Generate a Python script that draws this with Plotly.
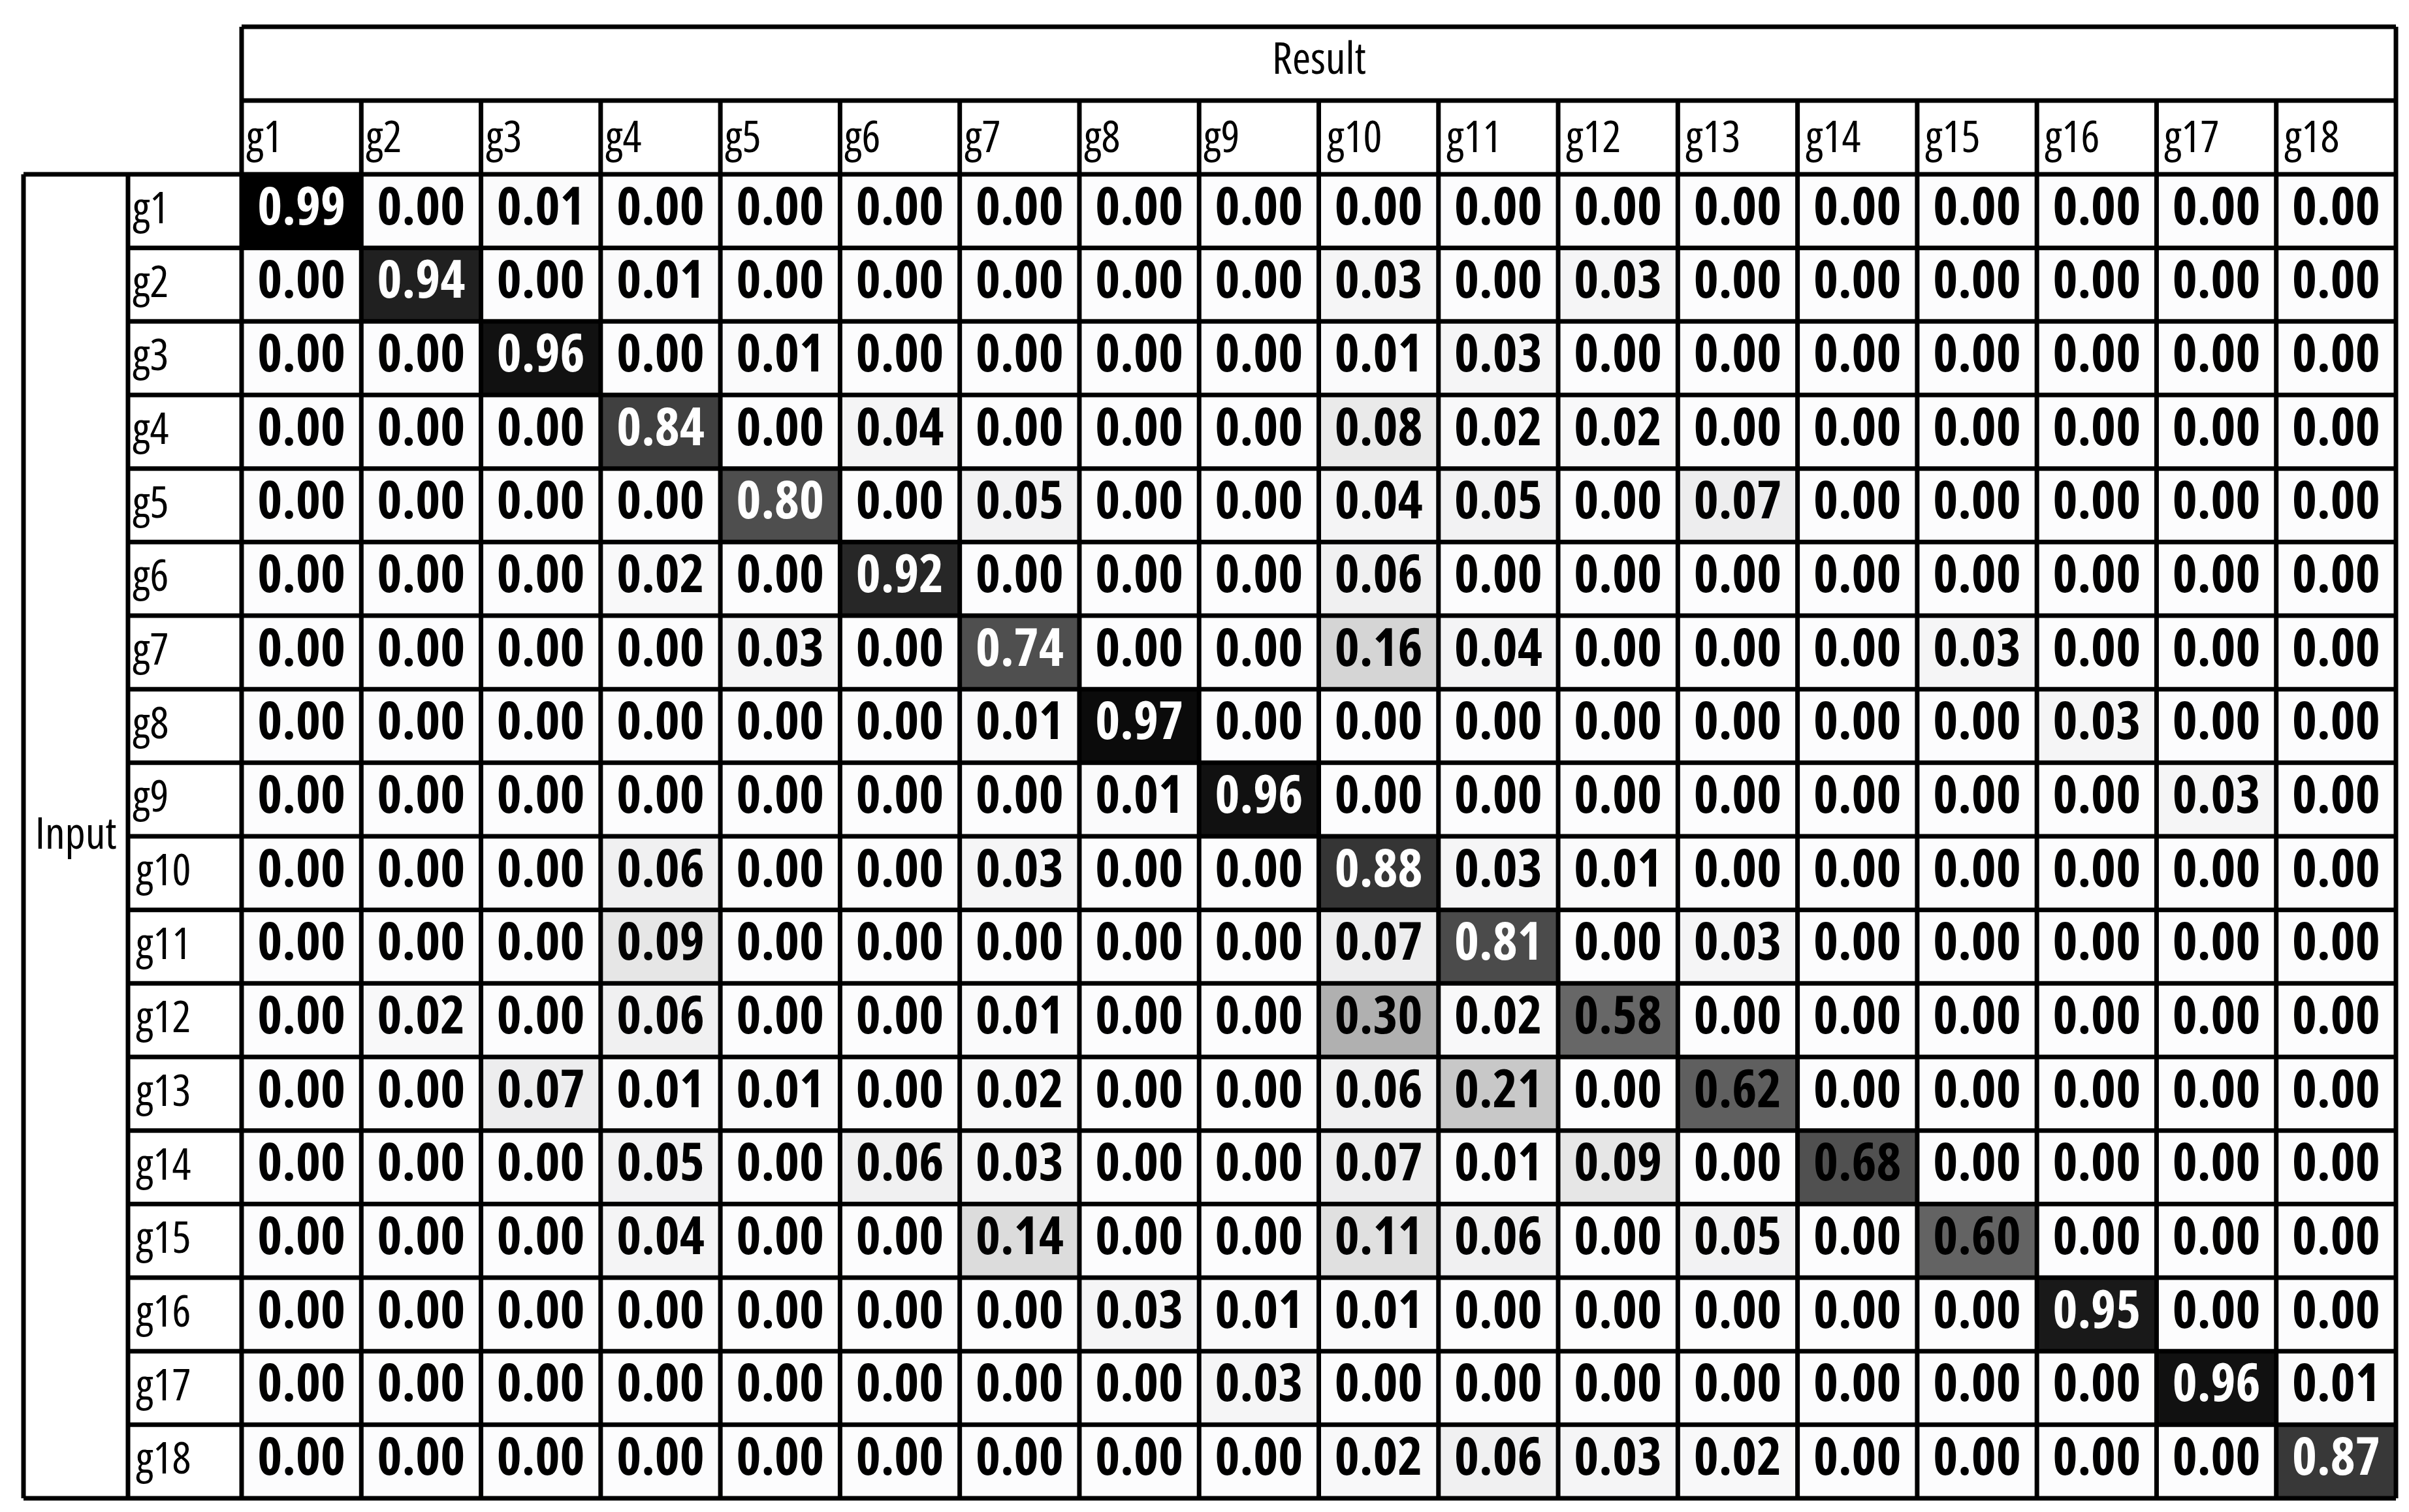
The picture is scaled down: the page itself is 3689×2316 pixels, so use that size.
import plotly.graph_objects as go

# ---------------- data ----------------
result_labels = ["g%d" % i for i in range(1, 19)]   # columns (Result)
input_labels = ["g%d" % i for i in range(1, 19)]    # rows (Input)

row_g1 = [0.99, 0.00, 0.01, 0.00, 0.00, 0.00, 0.00, 0.00, 0.00, 0.00, 0.00, 0.00, 0.00, 0.00, 0.00, 0.00, 0.00, 0.00]
row_g2 = [0.00, 0.94, 0.00, 0.01, 0.00, 0.00, 0.00, 0.00, 0.00, 0.03, 0.00, 0.03, 0.00, 0.00, 0.00, 0.00, 0.00, 0.00]
row_g3 = [0.00, 0.00, 0.96, 0.00, 0.01, 0.00, 0.00, 0.00, 0.00, 0.01, 0.03, 0.00, 0.00, 0.00, 0.00, 0.00, 0.00, 0.00]
row_g4 = [0.00, 0.00, 0.00, 0.84, 0.00, 0.04, 0.00, 0.00, 0.00, 0.08, 0.02, 0.02, 0.00, 0.00, 0.00, 0.00, 0.00, 0.00]
row_g5 = [0.00, 0.00, 0.00, 0.00, 0.80, 0.00, 0.05, 0.00, 0.00, 0.04, 0.05, 0.00, 0.07, 0.00, 0.00, 0.00, 0.00, 0.00]
row_g6 = [0.00, 0.00, 0.00, 0.02, 0.00, 0.92, 0.00, 0.00, 0.00, 0.06, 0.00, 0.00, 0.00, 0.00, 0.00, 0.00, 0.00, 0.00]
row_g7 = [0.00, 0.00, 0.00, 0.00, 0.03, 0.00, 0.74, 0.00, 0.00, 0.16, 0.04, 0.00, 0.00, 0.00, 0.03, 0.00, 0.00, 0.00]
row_g8 = [0.00, 0.00, 0.00, 0.00, 0.00, 0.00, 0.01, 0.97, 0.00, 0.00, 0.00, 0.00, 0.00, 0.00, 0.00, 0.03, 0.00, 0.00]
row_g9 = [0.00, 0.00, 0.00, 0.00, 0.00, 0.00, 0.00, 0.01, 0.96, 0.00, 0.00, 0.00, 0.00, 0.00, 0.00, 0.00, 0.03, 0.00]
row_g10 = [0.00, 0.00, 0.00, 0.06, 0.00, 0.00, 0.03, 0.00, 0.00, 0.88, 0.03, 0.01, 0.00, 0.00, 0.00, 0.00, 0.00, 0.00]
row_g11 = [0.00, 0.00, 0.00, 0.09, 0.00, 0.00, 0.00, 0.00, 0.00, 0.07, 0.81, 0.00, 0.03, 0.00, 0.00, 0.00, 0.00, 0.00]
row_g12 = [0.00, 0.02, 0.00, 0.06, 0.00, 0.00, 0.01, 0.00, 0.00, 0.30, 0.02, 0.58, 0.00, 0.00, 0.00, 0.00, 0.00, 0.00]
row_g13 = [0.00, 0.00, 0.07, 0.01, 0.01, 0.00, 0.02, 0.00, 0.00, 0.06, 0.21, 0.00, 0.62, 0.00, 0.00, 0.00, 0.00, 0.00]
row_g14 = [0.00, 0.00, 0.00, 0.05, 0.00, 0.06, 0.03, 0.00, 0.00, 0.07, 0.01, 0.09, 0.00, 0.68, 0.00, 0.00, 0.00, 0.00]
row_g15 = [0.00, 0.00, 0.00, 0.04, 0.00, 0.00, 0.14, 0.00, 0.00, 0.11, 0.06, 0.00, 0.05, 0.00, 0.60, 0.00, 0.00, 0.00]
row_g16 = [0.00, 0.00, 0.00, 0.00, 0.00, 0.00, 0.00, 0.03, 0.01, 0.01, 0.00, 0.00, 0.00, 0.00, 0.00, 0.95, 0.00, 0.00]
row_g17 = [0.00, 0.00, 0.00, 0.00, 0.00, 0.00, 0.00, 0.00, 0.03, 0.00, 0.00, 0.00, 0.00, 0.00, 0.00, 0.00, 0.96, 0.01]
row_g18 = [0.00, 0.00, 0.00, 0.00, 0.00, 0.00, 0.00, 0.00, 0.00, 0.02, 0.06, 0.03, 0.02, 0.00, 0.00, 0.00, 0.00, 0.87]

values = [row_g1, row_g2, row_g3, row_g4, row_g5, row_g6, row_g7, row_g8, row_g9,
          row_g10, row_g11, row_g12, row_g13, row_g14, row_g15, row_g16, row_g17, row_g18]

col_title = "Result"
row_title = "Input"

# ---------------- layout geometry (pixels) ----------------
W, H = 3689, 2316
L, R, T, B = 362, 3661, 259, 2287          # data grid edges
RESULT_TOP = 33
HEADER_TOP = 146
ROWLAB_LEFT = 188
INPUT_LEFT = 28
LW = 7
FONT = "Open Sans, sans-serif"


def px(xp):
    return (xp - L) / (R - L)


def py(yp):
    return (B - yp) / (B - T)


colorscale = [
    [0.00, "rgb(252,252,253)"], [0.01, "rgb(250,250,251)"], [0.03, "rgb(245,245,246)"],
    [0.05, "rgb(242,242,243)"], [0.07, "rgb(237,237,238)"], [0.09, "rgb(230,230,230)"],
    [0.11, "rgb(224,224,224)"], [0.14, "rgb(220,220,220)"], [0.16, "rgb(213,213,213)"],
    [0.21, "rgb(200,200,200)"], [0.30, "rgb(176,176,176)"], [0.58, "rgb(103,103,103)"],
    [0.62, "rgb(95,95,95)"], [0.68, "rgb(80,80,80)"], [0.80, "rgb(78,78,78)"],
    [0.84, "rgb(64,64,64)"], [0.87, "rgb(56,56,56)"], [0.92, "rgb(39,39,39)"],
    [0.94, "rgb(32,32,32)"], [0.96, "rgb(17,17,17)"], [0.99, "rgb(0,0,0)"], [1.00, "rgb(0,0,0)"],
]

fig = go.Figure()
fig.add_trace(go.Heatmap(
    z=values, x=result_labels, y=input_labels,
    zmin=0, zmax=1, colorscale=colorscale, showscale=False, hoverinfo="skip",
))

# value text
tx, ty, tt, tc = [], [], [], []
for i, rl in enumerate(input_labels):
    for j, cl in enumerate(result_labels):
        v = values[i][j]
        tx.append(cl)
        ty.append(rl)
        tt.append("%.2f" % v)
        tc.append("white" if v >= 0.7 else "black")
fig.add_trace(go.Scatter(
    x=tx, y=ty, mode="text", text=tt, textposition="middle center",
    textfont=dict(family=FONT, size=81, color=tc, weight="bold"),
    hoverinfo="skip", showlegend=False,
))

shapes = []


def line(x0, y0, x1, y1):
    shapes.append(dict(type="line", xref="paper", yref="paper",
                       x0=px(x0), y0=py(y0), x1=px(x1), y1=py(y1),
                       line=dict(color="black", width=LW), layer="above"))


n = len(result_labels)
m = len(input_labels)
cw = (R - L) / n
rh = (B - T) / m
# Result box
line(L, RESULT_TOP, R, RESULT_TOP)
line(L, HEADER_TOP, R, HEADER_TOP)
# vertical lines through header + grid
for k in range(n + 1):
    top = RESULT_TOP if k in (0, n) else HEADER_TOP
    line(L + k * cw, top, L + k * cw, B)
# horizontal lines
line(INPUT_LEFT, T, R, T)
for k in range(1, m):
    line(ROWLAB_LEFT, T + k * rh, R, T + k * rh)
line(INPUT_LEFT, B, R, B)
line(INPUT_LEFT, T, INPUT_LEFT, B)
line(ROWLAB_LEFT, T, ROWLAB_LEFT, B)

annotations = []
LAB = 68
labfont = dict(family=FONT, size=LAB, color="black")
annotations.append(dict(text=col_title, xref="paper", yref="paper",
                        x=px((L + R) / 2), y=py((RESULT_TOP + HEADER_TOP) / 2 - 11),
                        xanchor="center", yanchor="middle", showarrow=False, font=labfont))
annotations.append(dict(text=row_title, xref="paper", yref="paper",
                        x=px((INPUT_LEFT + ROWLAB_LEFT) / 2), y=py((T + B) / 2 - 8),
                        xanchor="center", yanchor="middle", showarrow=False, font=labfont))
for k, cl in enumerate(result_labels):
    annotations.append(dict(text=cl, xref="paper", yref="paper",
                            x=px(L + k * cw - 5), y=py((HEADER_TOP + T) / 2 - 4),
                            xanchor="left", yanchor="middle", showarrow=False, font=labfont))
for k, rl in enumerate(input_labels):
    annotations.append(dict(text=rl, xref="paper", yref="paper",
                            x=px(ROWLAB_LEFT - 5), y=py(T + (k + 0.5) * rh - 8),
                            xanchor="left", yanchor="middle", showarrow=False, font=labfont))

fig.update_layout(
    width=W, height=H,
    margin=dict(l=L, r=W - R, t=T, b=H - B, pad=0),
    paper_bgcolor="white", plot_bgcolor="white",
    shapes=shapes, annotations=annotations,
    showlegend=False,
    xaxis=dict(type="category", categoryorder="array", categoryarray=result_labels,
               range=[-0.5, n - 0.5], showticklabels=False, showgrid=False,
               zeroline=False, ticks="", fixedrange=True),
    yaxis=dict(type="category", categoryorder="array", categoryarray=input_labels,
               range=[m - 0.5, -0.5], showticklabels=False, showgrid=False,
               zeroline=False, ticks="", fixedrange=True),
)

# The reference uses a condensed face: apply a condensed width to all SVG text
# (including plotly's measuring element) and redraw so boxes are measured narrow.
post = """
var gd = document.getElementById('{plot_id}');
if (!window.__condensedDone) {
  window.__condensedDone = true;
  var s = document.createElement('style');
  s.textContent = 'svg text { font-stretch: 75% !important; }';
  document.head.appendChild(s);
  Plotly.newPlot(gd, gd.data, gd.layout, gd._context);
}
"""

fig.write_html("out.html", post_script=post)
